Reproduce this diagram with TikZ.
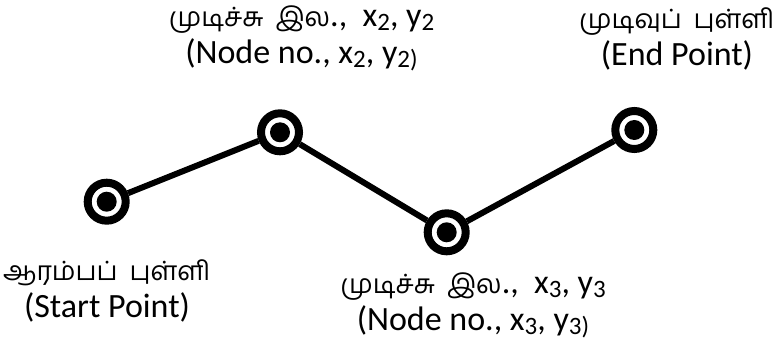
\documentclass[tikz,border=0pt]{standalone}
\usepackage{fontspec}
\setmainfont{Carlito}
\newfontfamily\tamil[Script=Tamil,Scale=0.78]{Hind Madurai}
\usetikzlibrary{positioning}

\newcommand{\lowdig}[1]{\raisebox{-0.12em}{\fontsize{25}{25}\selectfont #1}}
\newcommand{\gap}{\hspace{0.45em}}

\tikzset{
  junc/.style={circle, draw=black, line width=8pt, fill=white, inner sep=0pt, minimum size=38pt,
    path picture={\fill[black] (path picture bounding box.center) circle (10pt);}},
  link/.style={line width=6pt},
  lbl/.style={align=center, inner sep=0pt, font=\fontsize{34}{37}\selectfont}
}

\begin{document}
\begin{tikzpicture}[x=1pt,y=1pt]
  \useasboundingbox (0,0) rectangle (778,351);

  % junction points
  \node[junc] (start) at (106.7,149.3) {};
  \node[junc] (nodea) at (280,218.7) {};
  \node[junc] (nodeb) at (446.7,118.7) {};
  \node[junc] (finish) at (634.3,221) {};

  % links
  \draw[link] (start) -- (nodea);
  \draw[link] (nodea) -- (nodeb);
  \draw[link] (nodeb) -- (finish);

  % labels
  \node[lbl] (labela) at (301.5,312.5)
    {{\tamil முடிச்சு\gap இல}.,\gap x\lowdig{2}, y\lowdig{2}\\
     (Node no., x\lowdig{2}, y\lowdig{2)}};
  \node[lbl] (labelfinish) at (677,312.5)
    {{\tamil முடிவுப்\gap புள்ளி}\\(End Point)};
  \node[lbl] (labelstart) at (107,60.5)
    {{\tamil ஆரம்பப்\gap புள்ளி}\\(Start Point)};
  \node[lbl] (labelb) at (473,46)
    {{\tamil முடிச்சு\gap இல}.,\gap x\lowdig{3}, y\lowdig{3}\\
     (Node no., x\lowdig{3}, y\lowdig{3)}};
\end{tikzpicture}
\end{document}
